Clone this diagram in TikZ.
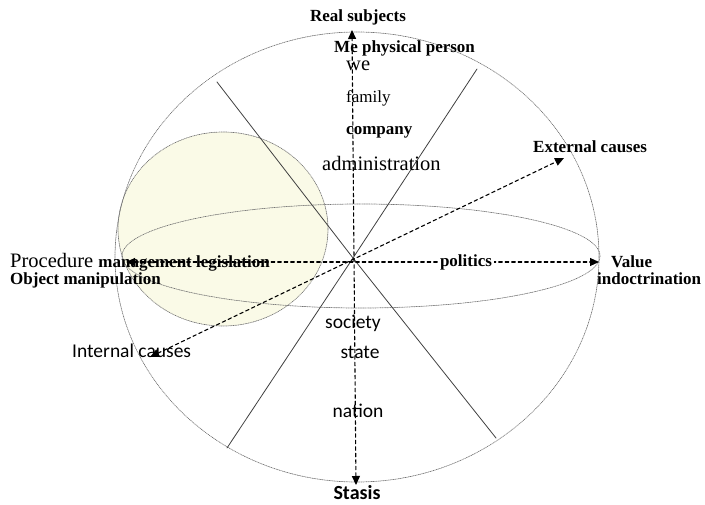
\documentclass[tikz,border=0pt]{standalone}
\usepackage{fontspec}
\setmainfont{Liberation Serif}
\newfontfamily\califont{Carlito}
\usetikzlibrary{arrows.meta}
\definecolor{cream}{RGB}{250,250,231}
\tikzset{
  sphere/.style={draw=black!55, densely dotted, line width=0.7pt},
  axisline/.style={dash pattern=on 3.5pt off 3pt, line width=1.1pt,
    {Triangle[length=9pt,width=8pt]}-{Triangle[length=9pt,width=8pt]}},
  meridian/.style={draw=black!75, line width=0.8pt},
  boldlab/.style={inner sep=0pt, font=\fontsize{17}{19}\selectfont\bfseries},
  serlab/.style={inner sep=0pt, font=\fontsize{20.5}{22}\selectfont},
  smallser/.style={inner sep=0pt, font=\fontsize{17}{19}\selectfont},
  callab/.style={inner sep=0pt, font=\fontsize{19.5}{21}\selectfont\califont},
}
\begin{document}
\begin{tikzpicture}[x=1pt, y=-1pt, line cap=round, line join=round]
  \useasboundingbox (0,0) rectangle (705,505);

  % shaded sphere on the left
  \fill[cream] (223,229) ellipse [x radius=105, y radius=97];
  \draw[sphere] (223,229) ellipse [x radius=105, y radius=97];

  % outer sphere and its equator
  \draw[sphere] (357,257) ellipse [x radius=242, y radius=225];
  \draw[sphere] (361,256) ellipse [x radius=239, y radius=52];

  \coordinate (O) at (353,258);

  % two solid cuts
  \coordinate (s1a) at (217,82);
  \coordinate (s1b) at (496,438);
  \coordinate (s2a) at (477,69);
  \coordinate (s2b) at (227,448);
  \draw[meridian] (s1a) -- (O) -- (s1b);
  \draw[meridian] (s2a) -- (O) -- (s2b);

  % axes
  \coordinate (vtop) at (352,30);
  \coordinate (vbot) at (356,485);
  \coordinate (hleft) at (126,262);
  \coordinate (hright) at (599,262);
  \coordinate (dlow) at (150,357);
  \coordinate (dhigh) at (564,158);
  \draw[axisline] (vbot) -- (vtop);
  \draw[axisline] (hleft) -- (hright);
  \draw[axisline] (dlow) -- (dhigh);

  % vertical axis labels
  \node[boldlab] (realsub) at (358,17) {Real subjects};
  \node[boldlab, anchor=west] (mephys) at (334,48) {Me physical person};
  \node[serlab, anchor=west] (we) at (346,66) {we};
  \node[smallser, anchor=west] (family) at (346,98) {family};
  \node[boldlab, anchor=west] (company) at (346,132) {company};
  \node[serlab, anchor=west] (admin) at (322,163) {administration};
  \node[callab] (society) at (353,323) {society};
  \node[callab] (state) at (360,352) {state};
  \node[callab] (nation) at (358,411) {nation};
  \node[callab, font=\fontsize{20}{22}\selectfont\califont\bfseries] (stasis) at (357,493) {Stasis};

  % horizontal axis labels
  \node[serlab, anchor=west] (proc) at (10,262)
    {Procedure {\fontsize{17}{19}\selectfont\bfseries management legislation}};
  \node[boldlab, anchor=west] (objman) at (10,280) {Object manipulation};
  \node[boldlab, fill=white, inner xsep=2pt] (politics) at (466,262) {politics};
  \node[boldlab, anchor=west] (value) at (611,262) {Value};
  \node[boldlab, anchor=west] (indoc) at (597,279) {indoctrination};

  % diagonal axis labels
  \node[boldlab, anchor=west] (extcause) at (533,147) {External causes};
  \node[callab, anchor=west] (intcause) at (72,351) {Internal causes};
\end{tikzpicture}
\end{document}
